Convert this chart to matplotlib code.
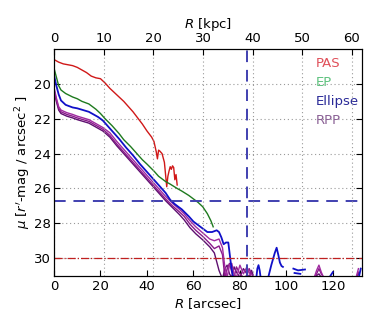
import numpy as np
import matplotlib
matplotlib.use("Agg")
import matplotlib.pyplot as plt

# surface brightness profiles (R in arcsec, mu in mag/arcsec^2)
pas_r = [0, 2, 4, 6, 8, 10, 12, 14, 16, 18, 20, 22, 24, 26, 28, 30, 32, 34, 36, 38, 40, 42,
         43, 44, 44.5, 45, 45.5, 46.5, 47.5, 48, 48.5, 49, 49.5, 50, 50.5, 51, 51.5, 52, 52.5, 53]
pas_mu = [18.6, 18.75, 18.85, 18.9, 18.95, 19.05, 19.2, 19.35, 19.55, 19.65, 19.7, 19.95, 20.25, 20.5,
          20.75, 21.0, 21.3, 21.6, 21.95, 22.3, 22.7, 23.05, 23.3, 23.9, 24.3, 23.8, 23.85, 24.0, 24.5,
          25.2, 25.9, 25.3, 25.0, 24.75, 24.9, 24.7, 24.8, 25.5, 25.2, 25.8]

ep_r = [0, 1, 2, 3, 5, 8, 10, 12, 15, 18, 20, 22, 25, 28, 30, 33, 35, 38, 40, 43, 45, 48, 50,
        53, 55, 58, 60, 62, 64, 66, 67.5, 68.5]
ep_mu = [19.1, 19.6, 20.1, 20.35, 20.55, 20.75, 20.85, 21.0, 21.15, 21.45, 21.7, 22.0, 22.4, 22.85,
         23.2, 23.6, 23.9, 24.35, 24.6, 25.0, 25.3, 25.6, 25.75, 26.0, 26.15, 26.4, 26.6, 26.8, 27.05,
         27.45, 27.85, 28.2]

ell_r = [0, 1, 2, 3, 5, 8, 10, 12.5, 15, 17, 19, 21, 23, 25, 28, 31, 34, 37, 40, 43, 46, 48, 50,
         52, 55, 58, 60, 62, 64, 66, 68, 70, 71, 72, 73, 74, 75, 76, 77, 78,
         np.nan, 87, 87.5, 88, 88.5, 89, np.nan, 92, 93.5, 95, 95.8, 96.5, 97.2, 97.9, 98.5,
         np.nan, 103, 105, 108, np.nan, 103.5, 106, np.nan, 118, 120, np.nan, 131, 132]
ell_mu = [19.5, 20.1, 20.6, 20.95, 21.2, 21.35, 21.4, 21.5, 21.6, 21.75, 21.9, 22.1, 22.4, 22.7,
          23.15, 23.65, 24.1, 24.6, 25.05, 25.5, 25.95, 26.25, 26.65, 26.9, 27.2, 27.6, 27.9, 28.1,
          28.3, 28.5, 28.5, 28.4, 28.5, 28.8, 29.2, 29.1, 29.1, 30.2, 31.1, 31.5,
          np.nan, 31.2, 30.6, 30.4, 30.7, 31.2, np.nan, 31.2, 30.4, 29.7, 29.4, 29.8, 30.25, 30.45, 30.5,
          np.nan, 30.6, 30.7, 30.65, np.nan, 30.85, 30.9, np.nan, 31.2, 30.8, np.nan, 31.2, 30.6]

rpp_r = [0, 1, 2, 3, 5.5, 8, 10, 12.5, 15, 17, 19, 21, 24, 27, 30, 33, 36, 39, 42, 45, 48, 51,
         54, 56, 58.5, 61, 64, 67, 69, 71, 72.5, 73.5, 74.5, 75.5, 76.5, 77.5, 78.5, 80, 81.5,
         83, 84, 85, 86, np.nan, 112, 113, 114, 115, 116, np.nan, 130, 131]
rpp1_mu = [20.2, 20.8, 21.3, 21.5, 21.65, 21.75, 21.85, 21.95, 22.05, 22.2, 22.35, 22.5, 22.8,
           23.3, 23.75, 24.2, 24.65, 25.1, 25.55, 26.0, 26.45, 26.85, 27.2, 27.45, 27.85, 28.2,
           28.55, 28.9, 29.0, 28.9, 29.4, 30.5, 31.1, 30.4, 30.3, 30.9, 31.1, 30.4, 30.9,
           30.5, 30.8, 31.1, 31.2, np.nan, 31.1, 30.7, 30.4, 30.8, 31.1, np.nan, 31.1, 30.6]
rpp2_mu = [20.3, 20.9, 21.4, 21.6, 21.75, 21.85, 21.95, 22.05, 22.15, 22.3, 22.45, 22.6, 22.95,
           23.45, 23.9, 24.35, 24.8, 25.25, 25.7, 26.15, 26.6, 27.0, 27.35, 27.6, 28.05, 28.4,
           28.75, 29.15, 29.45, 29.3, 29.8, 31.1, 30.6, 30.3, 30.8, 31.1, 30.5, 30.9, 31.1,
           31.0, 30.6, 30.9, 31.1, np.nan, 31.1, 30.9, 30.6, 30.9, 31.1, np.nan, 31.1, 30.8]
rpp3_mu = [20.4, 21.0, 21.5, 21.7, 21.85, 21.95, 22.05, 22.15, 22.25, 22.4, 22.55, 22.7, 23.05,
           23.55, 24.0, 24.45, 24.9, 25.35, 25.8, 26.25, 26.7, 27.1, 27.5, 27.8, 28.25, 28.6,
           28.95, 29.35, 29.7, 30.7, 31.2, 30.6, 30.4, 30.9, 31.1, 30.5, 30.8, 31.1, 30.6,
           30.9, 31.1, 30.7, 31.1, np.nan, 31.2, 31.0, 30.9, 31.1, 31.2, np.nan, 31.2, 30.9]

sb_limit = 30.0
mu_cut = 26.72
r_cut = 83.1
kpc_per_arcsec = 0.468

legend_labels = ["PAS", "EP", "Ellipse", "RPP"]
legend_colors = ["#e0505a", "#5ec27e", "#2a2a98", "#8a6095"]

fig = plt.figure(figsize=(3.9, 3.25), dpi=100)
ax = fig.add_axes([0.1385, 0.152, 0.7895, 0.697])

h_pas, = ax.plot(pas_r, pas_mu, color="#d01818", lw=1.0)
h_ep, = ax.plot(ep_r, ep_mu, color="#1e7a1e", lw=1.0)
h_rpp3, = ax.plot(rpp_r, rpp3_mu, color="#5e1070", lw=1.0)
h_rpp2, = ax.plot(rpp_r, rpp2_mu, color="#8a1a8a", lw=1.0)
h_rpp, = ax.plot(rpp_r, rpp1_mu, color="#a02aa0", lw=1.0)
h_ell, = ax.plot(ell_r, ell_mu, color="#1010c8", lw=1.3)

ax.axhline(mu_cut, color="#4040b0", lw=1.4, ls=(0, (6, 4)))
ax.axvline(r_cut, color="#4040b0", lw=1.4, ls=(0, (6, 4)))
ax.axhline(sb_limit, color="#c02020", lw=0.9, ls="-.")

ax.set_xlim(0, 132.5)
ax.set_ylim(31, 18)
ax.set_yticks([20, 22, 24, 26, 28, 30])
ax.set_xticks([0, 20, 40, 60, 80, 100, 120])
ax.tick_params(direction="in", labelsize=9.5, top=False, right=True, length=4)
ax.tick_params(axis="x", pad=3.5)
ax.tick_params(axis="y", pad=2)
ax.yaxis.grid(True, color="#999999", ls=(0, (1, 2.5)), lw=0.8)
ax.set_xlabel(r"$R$ [arcsec]", fontsize=9.5, labelpad=2)
ax.set_ylabel(r"$\mu$ [$r^{\prime}$-mag / arcsec$^2$ ]", fontsize=9.5, labelpad=1)

ax2 = ax.twiny()
ax2.set_xlim(0, 132.5 * kpc_per_arcsec)
ax2.set_xticks([0, 10, 20, 30, 40, 50, 60])
ax2.tick_params(direction="in", labelsize=9.5, length=4, pad=3)
ax2.xaxis.grid(True, color="#999999", ls=(0, (1, 2.5)), lw=0.8)
ax2.set_xlabel(r"$R$ [kpc]", fontsize=9.5, labelpad=3)

leg = ax.legend([h_pas, h_ep, h_ell, h_rpp], legend_labels, loc="upper left",
                bbox_to_anchor=(0.85, 0.967), borderpad=0, borderaxespad=0,
                frameon=False, handlelength=0, handletextpad=0, fontsize=9.5,
                labelspacing=0.47, labelcolor=legend_colors)
for h in leg.legend_handles:
    h.set_visible(False)

fig.savefig("out.png", dpi=100)
